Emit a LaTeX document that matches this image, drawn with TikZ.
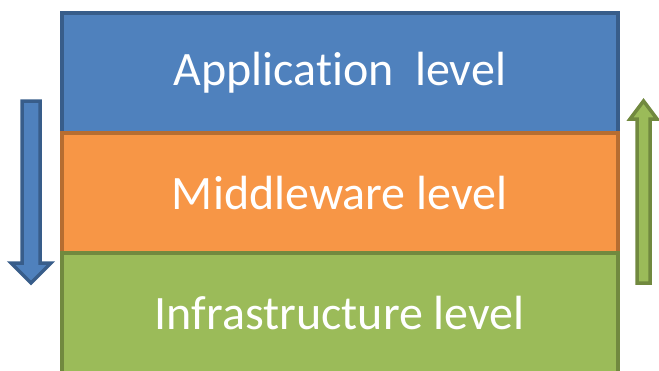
\documentclass[tikz,border=0pt]{standalone}
\usepackage{fontspec}
\setmainfont[Ligatures=NoCommon]{Carlito}
\definecolor{bfill}{HTML}{4F81BD}\definecolor{bline}{HTML}{385D8A}
\definecolor{ofill}{HTML}{F79646}\definecolor{oline}{HTML}{B66D31}
\definecolor{gfill}{HTML}{9BBB59}\definecolor{gline}{HTML}{71893F}
\begin{document}
\begin{tikzpicture}[x=1pt,y=-1pt,
  layer/.style={draw,line width=3.5pt,minimum width=556pt,inner sep=0pt,anchor=north west,text=white,font=\fontsize{48}{48}\selectfont},
  arr/.style={line width=3.5pt,line join=miter}]
\useasboundingbox (0,0) rectangle (659,370);
\node[layer,fill=bfill,draw=bline,minimum height=120pt] (app) at (60,11) {Application\ \ level};
\node[layer,fill=ofill,draw=oline,minimum height=120pt] (mid) at (60,131) {Middleware level};
\node[layer,fill=gfill,draw=gline,minimum height=120pt] (inf) at (60,251) {Infrastructure level};
% left down arrow
\filldraw[arr,fill=bfill,draw=bline] (22,101) -- (40,101) -- (40,263) -- (51,263) -- (31,283) -- (11,263) -- (22,263) -- cycle;
% right up arrow
\filldraw[arr,fill=gfill,draw=gline] (637,283) -- (650,283) -- (650,119) -- (657,119) -- (643.5,101) -- (630,119) -- (637,119) -- cycle;
\end{tikzpicture}
\end{document}
